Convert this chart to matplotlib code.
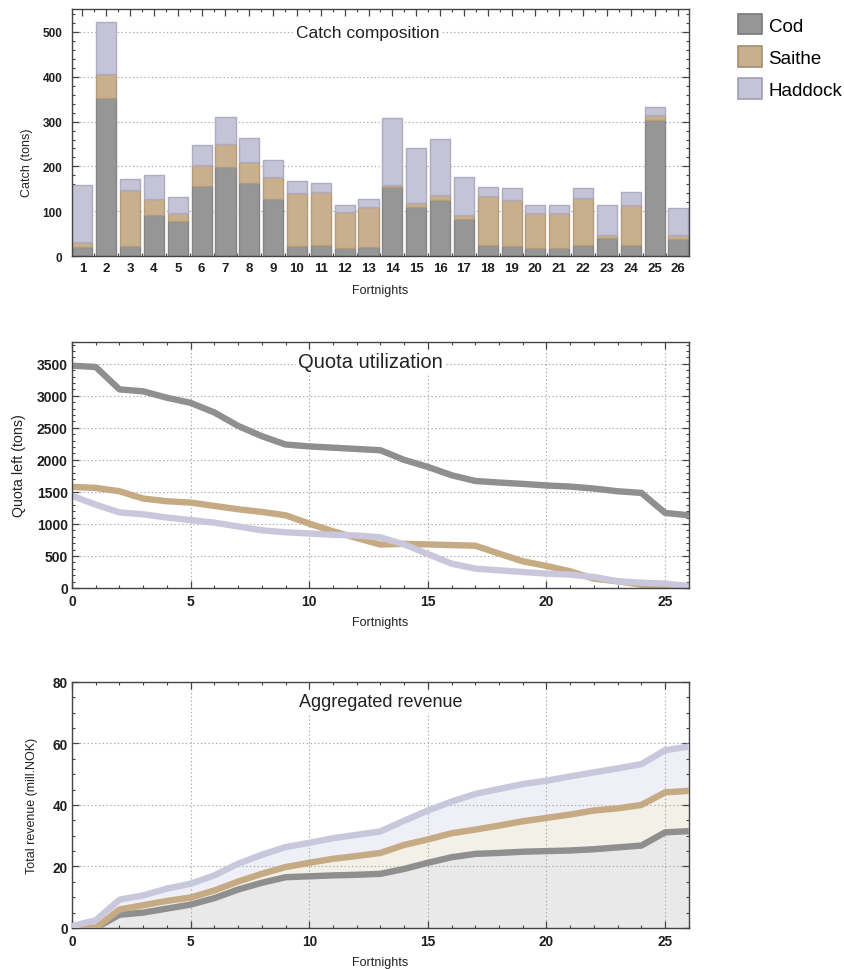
import matplotlib.pyplot as plt
import numpy as np
from matplotlib.patches import Patch
from matplotlib.ticker import MultipleLocator

plt.rcParams["font.family"] = ["Liberation Sans", "DejaVu Sans"]

# catch per fortnight (tons)
fortnights = list(range(1, 27))
cod_catch = [21, 352, 22, 91, 79, 156, 199, 163, 127, 22, 25, 19, 21,
             154, 110, 124, 83, 25, 22, 19, 19, 25, 40, 25, 303, 39]
saithe_catch = [11, 55, 126, 37, 16, 47, 50, 47, 50, 118, 118, 79, 89,
                5, 9, 12, 9, 108, 102, 78, 76, 104, 7, 90, 11, 7]
haddock_catch = [126, 115, 25, 52, 37, 44, 61, 54, 38, 28, 20, 17, 17,
                 149, 121, 126, 85, 21, 27, 18, 20, 22, 66, 27, 18, 62]

# quota left after each fortnight (tons)
steps = list(range(0, 27))
cod_quota = [3470, 3450, 3100, 3070, 2970, 2890, 2740, 2530, 2370, 2240,
             2210, 2190, 2170, 2150, 2000, 1890, 1760, 1670, 1646, 1625,
             1600, 1583, 1552, 1510, 1484, 1172, 1135]
saithe_quota = [1578, 1562, 1510, 1396, 1354, 1333, 1281, 1229, 1187, 1135,
                1005, 885, 781, 677, 690, 680, 670, 660, 536, 417,
                344, 260, 146, 104, 52, 25, 10]
haddock_quota = [1440, 1300, 1180, 1150, 1100, 1060, 1020, 960, 900, 870,
                 850, 830, 820, 790, 680, 530, 380, 302, 276, 250,
                 224, 208, 172, 104, 83, 68, 30]

# aggregated revenue, top edge of each stacked layer (mill. NOK)
rev_top_cod = [0, 0, 4.3, 5.0, 6.3, 7.6, 9.7, 12.5, 14.7, 16.5, 16.8, 17.1,
               17.3, 17.6, 19.2, 21.2, 23.0, 24.1, 24.4, 24.8, 25.0, 25.2,
               25.6, 26.2, 26.8, 31.1, 31.5]
rev_top_saithe = [0, 0, 6.0, 7.4, 8.8, 9.9, 12.2, 15.1, 17.6, 19.8, 21.2, 22.5,
                  23.4, 24.4, 27.0, 28.8, 30.8, 32.0, 33.3, 34.7, 35.8, 36.9,
                  38.2, 38.9, 40.0, 44.1, 44.6]
rev_top_haddock = [0.6, 2.5, 9.2, 10.6, 12.8, 14.4, 17.1, 20.9, 23.8, 26.3,
                   27.7, 29.2, 30.3, 31.4, 34.9, 38.2, 41.1, 43.6, 45.2, 46.8,
                   47.9, 49.3, 50.6, 51.9, 53.3, 57.8, 59.0]

species = ["Cod", "Saithe", "Haddock"]
bar_colors = ["#969696", "#c8b08f", "#c5c3d6"]
bar_edges = ["#858585", "#b49c7b", "#adabc2"]
line_colors = ["#8f8f8f", "#c6aa84", "#c9c7dc"]
fill_colors = ["#e9e9e9", "#f3f0e7", "#efeff7"]

TICK_COLOR = "#1e1e1e"
GRID = dict(color="#a8a8a8", linestyle=(0, (1.2, 2.2)), linewidth=0.8)


def style_axes(ax, xsize, ysize, ypad):
    for s in ax.spines.values():
        s.set_color("#444444")
        s.set_linewidth(1.0)
    ax.tick_params(which="both", direction="in", top=True, right=True,
                   color="#444444", labelcolor=TICK_COLOR, pad=4)
    ax.tick_params(axis="x", labelsize=xsize)
    ax.tick_params(axis="y", labelsize=ysize, pad=ypad)
    ax.tick_params(which="major", length=5, width=0.9)
    ax.tick_params(which="minor", length=2.5, width=0.8)
    for lab in ax.get_xticklabels() + ax.get_yticklabels():
        lab.set_fontweight("bold")


def add_title(ax, text, x, y, size):
    ax.text(x, y, text, transform=ax.transAxes, ha="center", va="center",
            fontsize=size, color="#222222", zorder=5,
            bbox=dict(facecolor="white", edgecolor="none", pad=1.5))


fig = plt.figure(figsize=(8.45, 9.7), dpi=100)

# --- catch composition ---
ax1 = fig.add_axes([0.0852, 0.735, 0.730, 0.2546])
cod = np.array(cod_catch)
sai = np.array(saithe_catch)
had = np.array(haddock_catch)
bottoms = [np.zeros_like(cod), cod, cod + sai]
for vals, bot, c, e in zip([cod, sai, had], bottoms, bar_colors, bar_edges):
    ax1.bar(fortnights, vals, bottom=bot, width=0.84, color=c,
            edgecolor=e, linewidth=1.0)
ax1.set_xlim(0.56, 26.44)
ax1.set_ylim(0, 551)
ax1.set_xticks(fortnights)
ax1.xaxis.set_minor_locator(MultipleLocator(0.5))
ax1.yaxis.set_major_locator(MultipleLocator(100))
ax1.yaxis.set_minor_locator(MultipleLocator(20))
ax1.yaxis.grid(True, **GRID)
ax1.set_axisbelow(True)
style_axes(ax1, 9.5, 8.5, 7)
ax1.set_ylabel("Catch (tons)", fontsize=9, color="#222222")
ax1.set_xlabel("Fortnights", fontsize=9, color="#222222")
ax1.yaxis.set_label_coords(-0.063, 0.38)
ax1.xaxis.set_label_coords(0.5, -0.112)
add_title(ax1, "Catch composition", 0.48, 0.907, 12.5)

handles = [Patch(facecolor=c, edgecolor=e, linewidth=1.2)
           for c, e in zip(bar_colors, ["#7a7a7a", "#a58e6d", "#9f9db4"])]
fig.legend(handles, species, loc="upper left",
           bbox_to_anchor=(738 / 845, 1 - 15 / 970), frameon=False,
           fontsize=13.5, handlelength=1.28, handleheight=1.3,
           handletextpad=0.35, labelspacing=0.62, borderpad=0,
           borderaxespad=0)

# --- quota utilization ---
ax2 = fig.add_axes([0.0852, 0.3928, 0.730, 0.2536])
for vals, c in zip([cod_quota, saithe_quota, haddock_quota], line_colors):
    ax2.plot(steps, vals, color=c, linewidth=4.6, solid_capstyle="butt",
             solid_joinstyle="round")
ax2.set_xlim(0, 26)
ax2.set_ylim(0, 3840)
ax2.xaxis.set_major_locator(MultipleLocator(5))
ax2.xaxis.set_minor_locator(MultipleLocator(1))
ax2.yaxis.set_major_locator(MultipleLocator(500))
ax2.yaxis.set_minor_locator(MultipleLocator(100))
ax2.grid(True, **GRID)
ax2.set_axisbelow("line")
style_axes(ax2, 10, 10, 3)
ax2.set_ylabel("Quota left (tons)", fontsize=10.3, color="#222222")
ax2.set_xlabel("Fortnights", fontsize=9, color="#222222")
ax2.yaxis.set_label_coords(-0.075, 0.5)
ax2.xaxis.set_label_coords(0.5, -0.112)
add_title(ax2, "Quota utilization", 0.483, 0.919, 14.5)

# --- aggregated revenue ---
ax3 = fig.add_axes([0.0852, 0.0423, 0.730, 0.2536])
layers = [np.zeros(len(steps)), np.array(rev_top_cod),
          np.array(rev_top_saithe), np.array(rev_top_haddock)]
for i in range(3):
    ax3.fill_between(steps, layers[i], layers[i + 1], color=fill_colors[i],
                     linewidth=0, zorder=1)
for i in range(3):
    ax3.plot(steps, layers[i + 1], color=line_colors[i], linewidth=4.6,
             solid_capstyle="butt", solid_joinstyle="round", zorder=3)
ax3.set_xlim(0, 26)
ax3.set_ylim(0, 80)
ax3.xaxis.set_major_locator(MultipleLocator(5))
ax3.xaxis.set_minor_locator(MultipleLocator(1))
ax3.yaxis.set_major_locator(MultipleLocator(20))
ax3.yaxis.set_minor_locator(MultipleLocator(5))
ax3.grid(True, **GRID)
ax3.set_axisbelow("line")
style_axes(ax3, 9.8, 9.8, 3)
ax3.set_ylabel("Total revenue (mill.NOK)", fontsize=9, color="#222222")
ax3.set_xlabel("Fortnights", fontsize=9, color="#222222")
ax3.yaxis.set_label_coords(-0.055, 0.5)
ax3.xaxis.set_label_coords(0.5, -0.112)
add_title(ax3, "Aggregated revenue", 0.50, 0.919, 13)

fig.savefig("out.png", dpi=100)
plt.close()
